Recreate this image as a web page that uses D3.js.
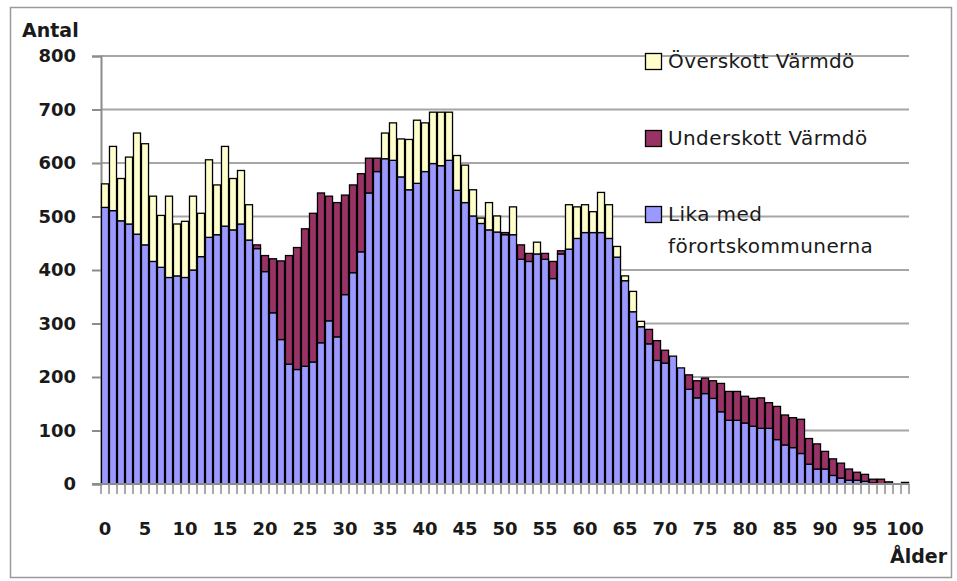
<!DOCTYPE html>
<html>
<head>
<meta charset="utf-8" />
<script src="https://d3js.org/d3.v7.min.js"></script>
<style>
  body { margin: 0; background: #fff; }
  svg text { font-family: "DejaVu Sans", sans-serif; fill: #1a1a1a; }
</style>
</head>
<body>
<svg id="chart" width="957" height="581"></svg>
<script>
// age 0..100
var ages = d3.range(0, 101);

// blue: equal to suburb municipalities
var lika = [517, 511, 492, 486, 467, 447, 416, 405, 386, 389,
            386, 400, 425, 461, 466, 482, 475, 486, 456, 440,
            397, 320, 270, 224, 214, 220, 228, 264, 305, 275,
            354, 395, 434, 544, 584, 608, 605, 574, 550, 562,
            584, 599, 595, 605, 549, 526, 501, 487, 475, 471,
            466, 466, 420, 416, 430, 420, 384, 430, 439, 459,
            470, 470, 470, 459, 424, 380, 322, 294, 262, 231,
            226, 239, 217, 177, 161, 169, 160, 135, 119, 119,
            114, 108, 104, 104, 83, 73, 68, 57, 37, 28,
            28, 16, 11, 7, 7, 5, 2, 0, 0, 0,
            3];

// red: deficit Värmdö
var underskott = [0, 0, 0, 0, 0, 0, 0, 0, 0, 0,
                  0, 0, 0, 0, 0, 0, 0, 0, 0, 7,
                  30, 101, 147, 203, 228, 257, 278, 280, 233, 251,
                  186, 164, 146, 65, 25, 0, 0, 0, 0, 0,
                  0, 0, 0, 0, 0, 0, 0, 0, 0, 0,
                  4, 0, 27, 15, 0, 11, 32, 6, 0, 0,
                  0, 0, 0, 0, 0, 0, 0, 0, 27, 37,
                  24, 0, 0, 27, 32, 29, 33, 53, 54, 54,
                  50, 52, 57, 48, 62, 56, 56, 64, 48, 47,
                  33, 31, 28, 21, 15, 13, 7, 9, 4, 0,
                  0];

// yellow: surplus Värmdö
var overskott = [44, 120, 79, 125, 189, 189, 122, 97, 152, 97,
                 105, 138, 81, 145, 93, 149, 96, 100, 66, 0,
                 0, 0, 0, 0, 0, 0, 0, 0, 0, 0,
                 0, 0, 0, 0, 0, 48, 70, 71, 94, 118,
                 91, 96, 100, 90, 65, 70, 49, 10, 51, 30,
                 0, 52, 0, 0, 22, 0, 0, 0, 83, 59,
                 52, 39, 75, 63, 20, 9, 38, 10, 0, 0,
                 0, 0, 0, 0, 0, 0, 0, 0, 0, 0,
                 0, 0, 0, 0, 0, 0, 0, 0, 0, 0,
                 0, 0, 0, 0, 0, 0, 0, 0, 0, 0,
                 0];

var yTicks = [0, 100, 200, 300, 400, 500, 600, 700, 800];
var xLabels = d3.range(0, 101, 5);

var series = [
  { key: "lika", name: "Lika med förortskommunerna", color: "#9999ff" },
  { key: "under", name: "Underskott Värmdö", color: "#993366" },
  { key: "over", name: "Överskott Värmdö", color: "#ffffcc" }
];

var rows = ages.map(function (a, i) {
  return { age: a, lika: lika[i], under: underskott[i], over: overskott[i] };
});

var svg = d3.select("#chart");
var plotL = 101, plotR = 909, plotT = 56, plotB = 484;

var x = d3.scaleBand().domain(ages).range([plotL, plotR]).paddingInner(0.12).paddingOuter(0.06);
var y = d3.scaleLinear().domain([0, 800]).range([plotB, plotT]);
var step = (plotR - plotL) / ages.length;

// outer frame
svg.append("rect")
  .attr("x", 10.5).attr("y", 7.5).attr("width", 941).attr("height", 570)
  .attr("fill", "none").attr("stroke", "#9a9a9a").attr("stroke-width", 1.5);

// gridlines
svg.append("g").selectAll("line").data(yTicks.filter(function (d) { return d > 0; }))
  .enter().append("line")
  .attr("x1", plotL).attr("x2", plotR)
  .attr("y1", function (d) { return y(d); }).attr("y2", function (d) { return y(d); })
  .attr("stroke", "#a6a6a6").attr("stroke-width", 2);

// y axis
var yAxis = svg.append("g").attr("transform", "translate(" + plotL + ",0)")
  .call(d3.axisLeft(y).tickValues(yTicks).tickSize(9).tickPadding(16));
yAxis.select(".domain").attr("stroke", "#8c8c8c").attr("stroke-width", 2);
yAxis.selectAll(".tick line").attr("stroke", "#8c8c8c").attr("stroke-width", 2);
yAxis.selectAll(".tick text")
  .style("font-family", "DejaVu Sans").style("font-weight", "bold")
  .style("font-size", "18px").attr("fill", "#1a1a1a");

// bars
var stack = d3.stack().keys(["lika", "under", "over"]);
var layers = stack(rows);

svg.append("g").selectAll("g").data(layers).enter().append("g")
  .attr("fill", function (d, i) { return series[i].color; })
  .selectAll("rect")
  .data(function (d) { return d.filter(function (p) { return p[1] - p[0] > 0; }); })
  .enter().append("rect")
  .attr("x", function (d) { return x(d.data.age); })
  .attr("width", x.bandwidth())
  .attr("y", function (d) { return y(d[1]); })
  .attr("height", function (d) { return y(d[0]) - y(d[1]); })
  .attr("stroke", "#000").attr("stroke-width", 1.3);

// x axis baseline and category ticks
svg.append("line")
  .attr("x1", plotL - 9).attr("x2", plotR)
  .attr("y1", plotB).attr("y2", plotB)
  .attr("stroke", "#8c8c8c").attr("stroke-width", 2);

svg.append("g").selectAll("line").data(d3.range(0, ages.length + 1))
  .enter().append("line")
  .attr("x1", function (k) { return plotL + k * step; })
  .attr("x2", function (k) { return plotL + k * step; })
  .attr("y1", plotB).attr("y2", plotB + 10)
  .attr("stroke", "#8c8c8c").attr("stroke-width", 1.5);

svg.append("g").selectAll("text").data(xLabels)
  .enter().append("text")
  .attr("x", function (d) { return x(d) + x.bandwidth() / 2; })
  .attr("y", 535)
  .attr("text-anchor", "middle")
  .style("font-weight", "bold").style("font-size", "18px")
  .text(function (d) { return d; });

// axis titles
svg.append("text").attr("x", 22).attr("y", 37)
  .style("font-weight", "bold").style("font-size", "19px").text("Antal");
svg.append("text").attr("x", 890).attr("y", 563)
  .style("font-weight", "bold").style("font-size", "19px").text("Ålder");

// legend
var legend = [
  { color: "#ffffcc", lines: ["Överskott Värmdö"], y: 53 },
  { color: "#993366", lines: ["Underskott Värmdö"], y: 130 },
  { color: "#9999ff", lines: ["Lika med", "förortskommunerna"], y: 206 }
];
var lg = svg.append("g").selectAll("g").data(legend).enter().append("g");
lg.append("rect")
  .attr("x", 645.5).attr("y", function (d) { return d.y + 0.5; })
  .attr("width", 16).attr("height", 16)
  .attr("fill", function (d) { return d.color; })
  .attr("stroke", "#000").attr("stroke-width", 1.3);
lg.each(function (d) {
  var g = d3.select(this);
  d.lines.forEach(function (t, i) {
    g.append("text")
      .attr("x", 668).attr("y", d.y + 15 + i * 32)
      .style("font-size", "20px").style("letter-spacing", "0.4px")
      .text(t);
  });
});
</script>
</body>
</html>
